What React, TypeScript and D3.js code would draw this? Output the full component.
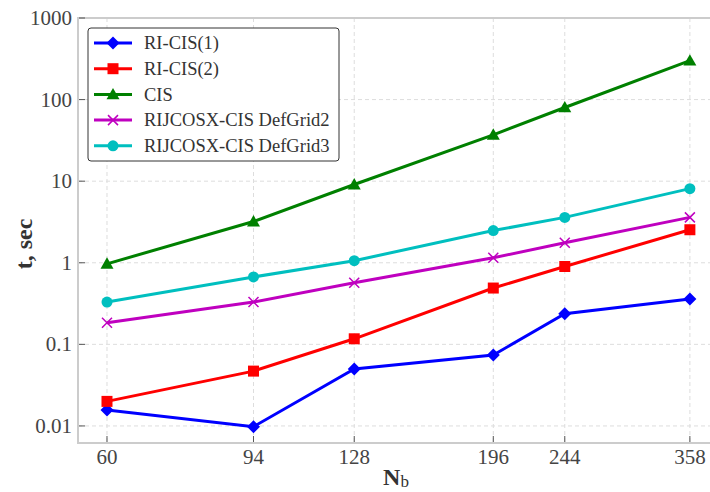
import * as d3 from "d3";

const nb = [60, 94, 128, 196, 244, 358];
const yTicks = [0.01, 0.1, 1, 10, 100, 1000];
const yTickLabels = ["0.01", "0.1", "1", "10", "100", "1000"];

const riCis1 = [0.0157, 0.0098, 0.05, 0.074, 0.237, 0.36];
const riCis2 = [0.02, 0.047, 0.117, 0.49, 0.9, 2.54];
const cis = [0.97, 3.2, 9.1, 37, 80, 300];
const cosxGrid2 = [0.184, 0.33, 0.57, 1.15, 1.76, 3.6];
const cosxGrid3 = [0.33, 0.67, 1.06, 2.48, 3.6, 8.1];

const seriesNames = [
  "RI-CIS(1)",
  "RI-CIS(2)",
  "CIS",
  "RIJCOSX-CIS DefGrid2",
  "RIJCOSX-CIS DefGrid3",
];
const seriesValues = [riCis1, riCis2, cis, cosxGrid2, cosxGrid3];
const colors = ["#0000ff", "#ff0000", "#008000", "#bf00bf", "#00bfbf"];
const markers = ["diamond", "square", "triangle", "x", "circle"];

const width = 710;
const height = 492;
const marginLeft = 78;
const marginTop = 18;
const plotRight = 722;
const plotBottom = 443;
const font = "Liberation Serif, DejaVu Serif, serif";

function Marker({ kind, x, y, color }: { kind: string; x: number; y: number; color: string }) {
  if (kind === "diamond") {
    const s = 6.5;
    return <path d={`M${x},${y - s}L${x + s},${y}L${x},${y + s}L${x - s},${y}Z`} fill={color} />;
  }
  if (kind === "square") {
    return <rect x={x - 5.5} y={y - 5.5} width={11} height={11} fill={color} />;
  }
  if (kind === "triangle") {
    const s = 6.5;
    return <path d={`M${x},${y - s}L${x + s},${y + s * 0.75}L${x - s},${y + s * 0.75}Z`} fill={color} />;
  }
  if (kind === "x") {
    const s = 5;
    return (
      <path
        d={`M${x - s},${y - s}L${x + s},${y + s}M${x - s},${y + s}L${x + s},${y - s}`}
        stroke={color}
        strokeWidth={1.5}
      />
    );
  }
  return <circle cx={x} cy={y} r={5.5} fill={color} />;
}

export default function App() {
  const x = d3.scaleLog().domain([54.9, 379.6]).range([marginLeft, 709]);
  const y = d3.scaleLog().domain([0.00618, 1000]).range([plotBottom, marginTop]);

  const line = d3
    .line<[number, number]>()
    .x((d) => x(d[0]))
    .y((d) => y(d[1]));

  return (
    <svg
      width={width}
      height={height}
      style={{ position: "absolute", left: 0, top: 0, background: "#fff" }}
    >
      {/* grid */}
      {nb.map((v) => (
        <line
          key={"gx" + v}
          x1={x(v)}
          x2={x(v)}
          y1={marginTop}
          y2={plotBottom}
          stroke="#dddddd"
          strokeDasharray="4,3"
        />
      ))}
      {yTicks.map((v) => (
        <line
          key={"gy" + v}
          x1={marginLeft}
          x2={plotRight}
          y1={y(v)}
          y2={y(v)}
          stroke="#dddddd"
          strokeDasharray="4,3"
        />
      ))}

      {/* spines */}
      <line x1={marginLeft} x2={marginLeft} y1={marginTop} y2={plotBottom} stroke="#cccccc" strokeWidth={2} />
      <line x1={marginLeft - 1} x2={plotRight} y1={marginTop} y2={marginTop} stroke="#cccccc" strokeWidth={2} />
      <line x1={marginLeft - 1} x2={plotRight} y1={plotBottom} y2={plotBottom} stroke="#cccccc" strokeWidth={2} />

      {/* ticks */}
      {yTicks.map((v, i) => (
        <g key={"ty" + v}>
          <line x1={marginLeft + 1} x2={marginLeft + 7} y1={y(v)} y2={y(v)} stroke="#555" strokeWidth={1} />
          <text
            x={marginLeft - 6}
            y={y(v)}
            dy="0.33em"
            textAnchor="end"
            fontFamily={font}
            fontSize={21}
            fill="#444"
          >
            {yTickLabels[i]}
          </text>
        </g>
      ))}
      {nb.map((v) => (
        <g key={"tx" + v}>
          <line x1={x(v)} x2={x(v)} y1={plotBottom - 1} y2={plotBottom - 7} stroke="#555" strokeWidth={1} />
          <text
            x={x(v)}
            y={plotBottom + 21}
            textAnchor="middle"
            fontFamily={font}
            fontSize={21}
            fill="#444"
          >
            {v}
          </text>
        </g>
      ))}

      {/* axis labels */}
      <text
        transform={`translate(32,244) rotate(-90)`}
        textAnchor="middle"
        fontFamily={font}
        fontSize={24}
        fontWeight="bold"
        fill="#333"
      >
        t, sec
      </text>
      <text x={396} y={485} textAnchor="middle" fontFamily={font} fontSize={24} fontWeight="bold" fill="#333">
        N
        <tspan fontSize={17} dy={2} fontWeight="normal">
          b
        </tspan>
      </text>

      {/* series */}
      <g>
        {seriesValues.map((vals, si) => {
          const pts = nb.map((n, i) => [n, vals[i]] as [number, number]);
          return (
            <g key={seriesNames[si]}>
              <path d={line(pts) ?? ""} fill="none" stroke={colors[si]} strokeWidth={3} />
              {pts.map((p, i) => (
                <Marker key={i} kind={markers[si]} x={x(p[0])} y={y(p[1])} color={colors[si]} />
              ))}
            </g>
          );
        })}
      </g>

      {/* legend */}
      <g>
        <rect x={88} y={28} width={251} height={133} rx={3} fill="#fff" stroke="#333" strokeWidth={1} />
        {seriesNames.map((name, i) => {
          const ly = 43 + i * 25.7;
          return (
            <g key={"lg" + name}>
              <line x1={94} x2={132} y1={ly} y2={ly} stroke={colors[i]} strokeWidth={3} />
              <Marker kind={markers[i]} x={113} y={ly} color={colors[i]} />
              <text x={144} y={ly} dy="0.33em" fontFamily={font} fontSize={18.5} fill="#333">
                {name}
              </text>
            </g>
          );
        })}
      </g>
    </svg>
  );
}
